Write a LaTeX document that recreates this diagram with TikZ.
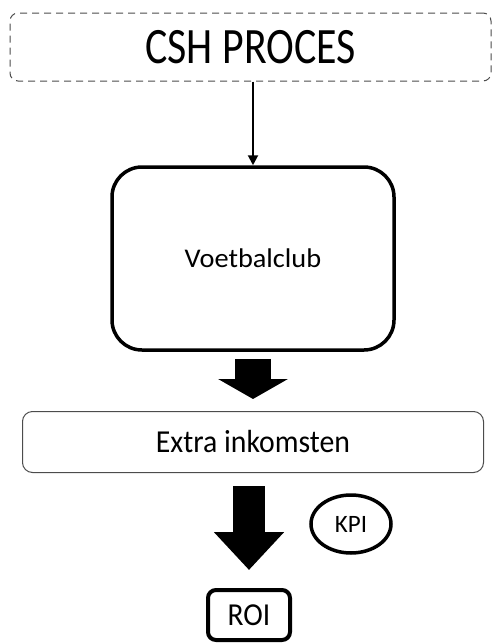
\documentclass[tikz,border=0pt]{standalone}
\usepackage{graphicx}
\usepackage{fontspec}
\setmainfont{Carlito}
\usetikzlibrary{positioning,arrows.meta,shapes.geometric,calc}

\begin{document}
\begin{tikzpicture}[x=1pt,y=-1pt,
  procbox/.style={draw=black!70,line width=1pt,dash pattern=on 7pt off 5pt,rounded corners=8pt,inner sep=0pt},
  clubbox/.style={draw,line width=3.5pt,rounded corners=30pt,inner sep=0pt},
  incbox/.style={draw=black!70,line width=1pt,rounded corners=10pt,inner sep=0pt},
  roibox/.style={draw,line width=4pt,rounded corners=8pt,inner sep=0pt},
  kpinode/.style={draw,ellipse,line width=3.5pt,inner sep=0pt},
  conn/.style={line width=2pt,-{Triangle[width=10pt,length=10pt]}},
  fatarrow/.style={line width=#1}]
  \useasboundingbox (0,0) rectangle (492,643);
  % boxes
  \node[procbox,minimum width=481pt,minimum height=68pt] (csh) at (250.5,47)
    {\fontsize{51}{55}\selectfont\scalebox{0.82}[1]{CSH PROCES}};
  \node[clubbox,minimum width=282pt,minimum height=183pt] (club) at (253,258.5)
    {\fontsize{27}{30}\selectfont\scalebox{1.05}[1]{Voetbalclub}};
  \node[incbox,minimum width=461pt,minimum height=61pt] (extra) at (253,442)
    {\fontsize{32}{36}\selectfont\scalebox{0.93}[1]{Extra inkomsten}};
  \node[kpinode,minimum width=80pt,minimum height=58pt] (kpi) at (351,524)
    {\fontsize{25}{28}\selectfont KPI};
  \node[roibox,minimum width=82pt,minimum height=50pt] (roi) at (249,615)
    {\fontsize{32}{36}\selectfont\scalebox{0.92}[1]{ROI}};
  % arrows
  \draw[conn] (csh.south -| club.north) -- (club.north);
  \draw[fatarrow=36pt,-{Triangle[width=69pt,length=20pt]}]
    ([yshift=-7pt]club.south) -- ([yshift=12pt]extra.north);
  \draw[fatarrow=32pt,-{Triangle[width=68pt,length=38pt]}]
    ([yshift=-13pt]extra.south -| roi.north) -- ([yshift=18pt]roi.north);
\end{tikzpicture}
\end{document}
